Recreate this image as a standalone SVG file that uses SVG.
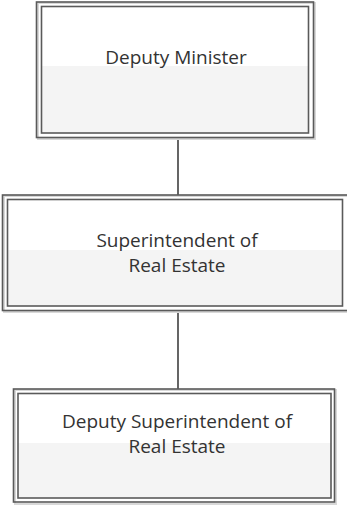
<svg xmlns="http://www.w3.org/2000/svg" width="347" height="506" viewBox="0 0 347 506">
  <style>
    .outer { fill: none; stroke: #5a5a5a; stroke-width: 1.6; }
    .inner { stroke: #5a5a5a; stroke-width: 1.6; fill: url(#split); }
    .shadow { fill: none; stroke: #d8d8d8; stroke-width: 2; }
    .link { stroke: #555555; stroke-width: 1.8; fill: none; }
    .label { font-family: "Open Sans", "Noto Sans", sans-serif; font-size: 19px; fill: #333333; text-anchor: middle; }
  </style>
  <defs>
    <linearGradient id="split" x1="0" y1="0" x2="0" y2="1">
      <stop offset="0" stop-color="#ffffff"/>
      <stop offset="0.47" stop-color="#ffffff"/>
      <stop offset="0.47" stop-color="#f4f4f4"/>
      <stop offset="1" stop-color="#f4f4f4"/>
    </linearGradient>
  </defs>

  <!-- reporting lines -->
  <g id="connectors">
    <line class="link" x1="178" y1="138" x2="178" y2="195"/>
    <line class="link" x1="178" y1="311" x2="178" y2="389"/>
  </g>

  <g id="deputy-minister">
    <rect class="shadow" x="38" y="3" width="277" height="136"/>
    <rect class="outer" x="36.5" y="2" width="277" height="135.5"/>
    <rect class="inner" x="41.5" y="6.5" width="267" height="126.5"/>
    <text class="label" x="176" y="64">Deputy Minister</text>
  </g>

  <g id="superintendent">
    <rect class="shadow" x="4" y="196" width="345" height="116"/>
    <rect class="outer" x="2.5" y="195" width="346" height="115.5"/>
    <rect class="inner" x="7.5" y="199.5" width="335" height="106.5"/>
    <text class="label" x="177" y="247">Superintendent of</text>
    <text class="label" x="177" y="272">Real Estate</text>
  </g>

  <g id="deputy-superintendent">
    <rect class="shadow" x="15" y="390" width="321" height="114"/>
    <rect class="outer" x="13.5" y="389" width="321" height="113"/>
    <rect class="inner" x="18" y="393.5" width="313" height="104.5"/>
    <text class="label" x="177" y="428">Deputy Superintendent of</text>
    <text class="label" x="177" y="453">Real Estate</text>
  </g>
</svg>
